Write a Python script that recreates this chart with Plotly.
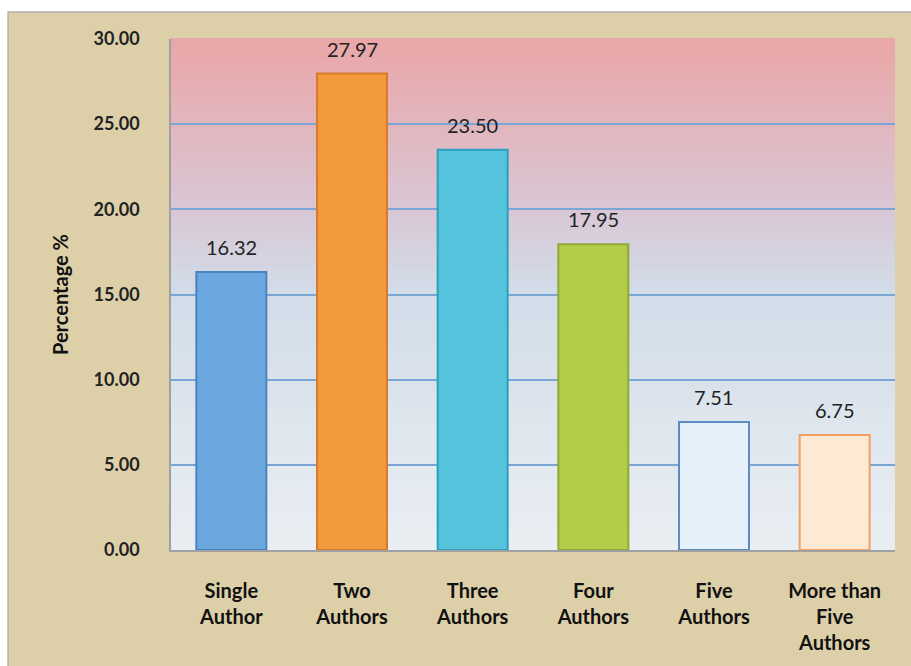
import plotly.graph_objects as go

# Share of papers by number of authors
categories = ["Single<br>Author", "Two<br>Authors", "Three<br>Authors",
              "Four<br>Authors", "Five<br>Authors", "More than<br>Five<br>Authors"]
percentages = [16.32, 27.97, 23.50, 17.95, 7.51, 6.75]
tick_values = [0, 5, 10, 15, 20, 25, 30]
tick_labels = ["0.00", "5.00", "10.00", "15.00", "20.00", "25.00", "30.00"]

fill_colors = ["#6aa8df", "#f39a3e", "#55c3dc", "#b2cc48", "#e6f0fa", "#fde9d4"]
edge_colors = ["#4a84bf", "#d97a2a", "#2aa0bd", "#8fa934", "#5a8cc4", "#f0a060"]

FONT = "Lato"

fig = go.Figure()
fig.add_trace(go.Bar(
    x=categories, y=percentages,
    marker=dict(color=fill_colors, line=dict(color=edge_colors, width=2)),
    width=0.58, hoverinfo="skip",
))

# value labels above each bar
for c, v in zip(categories, percentages):
    fig.add_annotation(x=c, y=v, text=f"{v:.2f}", showarrow=False,
                       yshift=25, font=dict(family=FONT, size=20, color="#222"))

shapes = []
# tan card behind the chart
shapes.append(dict(type="rect", xref="paper", yref="paper",
                   x0=-0.225, x1=1.2, y0=-0.4, y1=1.053,
                   fillcolor="#ddd0a9", line=dict(color="#b0b0b0", width=1.5),
                   layer="below"))
# vertical gradient in the plotting area (pink at top to pale blue-grey at bottom)
stops = [(0.0, (233, 238, 242)), (0.5, (210, 221, 233)),
         (0.67, (217, 198, 213)), (1.0, (234, 166, 166))]
n = 80
for i in range(n):
    t = (i + 0.5) / n
    for (t0, c0), (t1, c1) in zip(stops[:-1], stops[1:]):
        if t0 <= t <= t1:
            u = (t - t0) / (t1 - t0)
            col = tuple(round(c0[k] + (c1[k] - c0[k]) * u) for k in range(3))
            break
    shapes.append(dict(type="rect", xref="paper", yref="paper",
                       x0=0, x1=1, y0=i / n, y1=(i + 1) / n + 0.002,
                       fillcolor="rgb(%d,%d,%d)" % col, line=dict(width=0),
                       layer="below"))

fig.update_layout(
    width=911, height=666,
    margin=dict(l=171, r=16, t=39, b=116),
    paper_bgcolor="white",
    plot_bgcolor="rgba(0,0,0,0)",
    shapes=shapes,
    bargap=0.42,
    showlegend=False,
    font=dict(family=FONT, color="#1a1a1a"),
    xaxis=dict(showgrid=False, showline=True, linecolor="#a0a0a0", linewidth=1.5,
               tickfont=dict(family=FONT, size=20, color="#111", weight="bold"),
               ticks="", ticklabelstandoff=22),
    yaxis=dict(range=[0, 30], tickvals=tick_values, ticktext=tick_labels,
               showgrid=True, gridcolor="#7aa6d6", gridwidth=2,
               showline=True, linecolor="#a0a0a0", linewidth=1.5,
               zeroline=False, ticks="",
               tickfont=dict(family=FONT, size=18, color="#222", weight="bold"),
               ticklabelstandoff=26,
               title=dict(text="<b>Percentage %</b>", standoff=20,
                          font=dict(family=FONT, size=20, color="#111"))),
)

fig.write_html("out.html")
